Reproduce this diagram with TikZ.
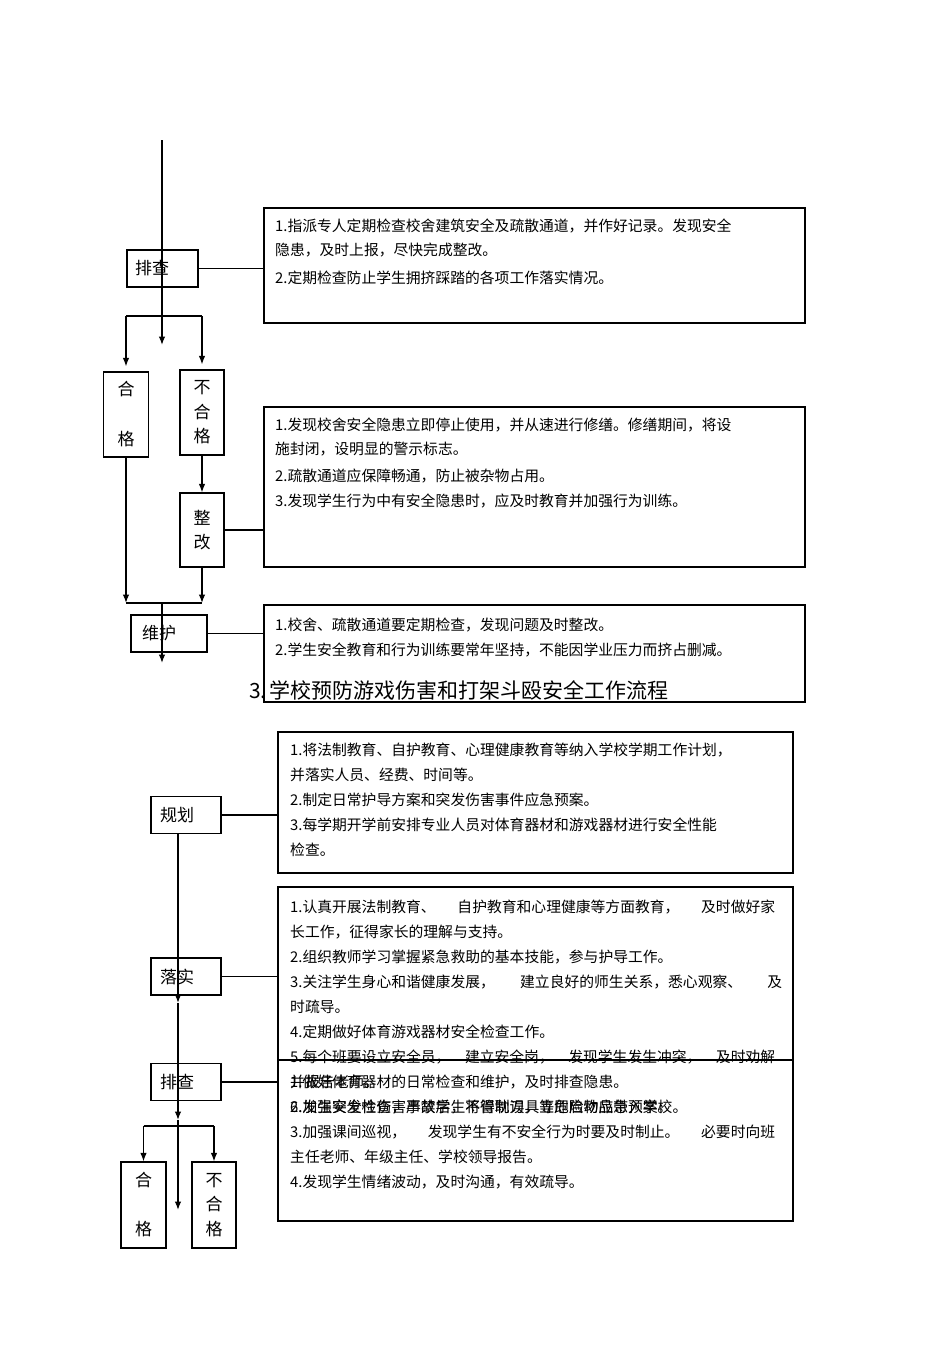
\documentclass[tikz,border=0pt]{standalone}
\usepackage{fontspec}
\setmainfont{Noto Sans CJK SC}
\usetikzlibrary{arrows.meta}

\tikzset{
	stage/.style={draw, line width=1.2pt, font=\fontsize{17}{20}\selectfont, align=left, minimum height=37pt, inner ysep=0pt},
	vstage/.style={draw, line width=1.2pt, font=\fontsize{17}{24.5}\selectfont, align=center, minimum width=45pt, inner sep=0pt},
	note/.style={draw, line width=1.2pt, inner sep=0pt},
	notetext/.style={anchor=north west, inner sep=0pt, align=left, font=\fontsize{14.8}{24}\selectfont},
	link/.style={line width=1.2pt},
	flow/.style={line width=1.2pt, ->},
}

\begin{document}
\begin{tikzpicture}[x=1pt, y=-1pt, >={Latex[length=8.5pt,width=6.5pt]}]
	\useasboundingbox (0,0) rectangle (950,1345);

	\node[note, minimum width=541, minimum height=115] (n1) at (534.5,265.5) {};
	\node[notetext] (n1t) at (275,219) {1.指派专人定期检查校舍建筑安全及疏散通道，并作好记录。发现安全\\隐患，及时上报，尽快完成整改。\\[4pt]2.定期检查防止学生拥挤踩踏的各项工作落实情况。};
	\node[note, minimum width=541, minimum height=160] (n2) at (534.5,487) {};
	\node[notetext] (n2t) at (275,418) {1.发现校舍安全隐患立即停止使用，并从速进行修缮。修缮期间，将设\\施封闭，设明显的警示标志。\\[3pt]2.疏散通道应保障畅通，防止被杂物占用。\\[1pt]3.发现学生行为中有安全隐患时，应及时教育并加强行为训练。};
	\node[note, minimum width=541, minimum height=97] (n3) at (534.5,653.5) {};
	\node[notetext] (n3t) at (275,618) {1.校舍、疏散通道要定期检查，发现问题及时整改。\\[1pt]2.学生安全教育和行为训练要常年坚持，不能因学业压力而挤占删减。};

	\node[stage, text width=55, inner xsep=8] (pc1) at (162.5,268.5) {排查};
	\node[vstage, minimum height=85, font=\fontsize{17}{50}\selectfont] (hg1) at (126,414.5) {合\\格};
	\node[vstage, minimum height=85, minimum width=44] (bhg1) at (202,412.5) {不\\合\\格};
	\node[vstage, minimum height=74, minimum width=44] (zg) at (202,530) {整\\改};
	\node[stage, text width=54, inner xsep=11] (wh) at (169,633.5) {维护};

	\coordinate (s1top) at (162,140);
	\coordinate (s1arr) at (162,345);
	\coordinate (br1) at (162,316);
	\coordinate (mg1) at (162,603);
	\coordinate (s1end) at (162,663);

	\draw[flow] (s1top) -- (s1arr);
	\draw[link] (pc1) -- (pc1 -| n1.west);
	\draw[link] (hg1.north |- br1) -- (bhg1.north |- br1);
	\draw[flow, shorten >=5pt] (hg1.north |- br1) -- (hg1.north);
	\draw[flow, shorten >=5pt] (bhg1.north |- br1) -- (bhg1.north);
	\draw[flow] (bhg1) -- (zg);
	\draw[link] (zg) -- (zg -| n2.west);
	\draw[flow] (hg1) -- (hg1 |- mg1);
	\draw[flow] (zg) -- (zg |- mg1);
	\draw[link] (hg1 |- mg1) -- (zg |- mg1);
	\draw[flow] (mg1) -- (s1end);
	\draw[link] (wh) -- (wh -| n3.west);

	\node[inner sep=0pt, font=\fontsize{21}{24}\selectfont] (ttl) at (459,690) {3.\,学校预防游戏伤害和打架斗殴安全工作流程};

	\node[note, line width=2pt, minimum width=515, minimum height=141] (n4) at (535.5,802.5) {};
	\node[notetext, font=\fontsize{14.8}{25}\selectfont] (n4t) at (290,743) {1.将法制教育、自护教育、心理健康教育等纳入学校学期工作计划，\\并落实人员、经费、时间等。\\2.制定日常护导方案和突发伤害事件应急预案。\\3.每学期开学前安排专业人员对体育器材和游戏器材进行安全性能\\检查。};
	\node[note, minimum width=515, minimum height=173] (n5) at (535.5,973.5) {};
	\node[notetext, font=\fontsize{14.8}{25}\selectfont] (n5t) at (290,900) {\makebox[485pt][l]{1.认真开展法制教育、\hfill 自护教育和心理健康等方面教育，\hfill 及时做好家}\\长工作，征得家长的理解与支持。\\2.组织教师学习掌握紧急救助的基本技能，参与护导工作。\\\makebox[492pt][l]{3.关注学生身心和谐健康发展，\hfill 建立良好的师生关系，悉心观察、\hfill 及}\\时疏导。\\4.定期做好体育游戏器材安全检查工作。\\\makebox[485pt][l]{5.每个班要设立安全员，\hfill 建立安全岗，\hfill 发现学生发生冲突，\hfill 及时劝解}\\并报告老师。\\6.发生突发性伤害事故后，不得耽误，立即启动应急预案。};
	\node[note, minimum width=515, minimum height=161] (n6) at (535.5,1140.5) {};
	\node[notetext, font=\fontsize{14.8}{25}\selectfont] (n6t) at (290,1075) {1.做好体育器材的日常检查和维护，及时排查隐患。\\2.加强安全检查，严禁学生将管制刀具等危险物品带入学校。\\\makebox[485pt][l]{3.加强课间巡视，\hfill 发现学生有不安全行为时要及时制止。\hfill 必要时向班}\\主任老师、年级主任、学校领导报告。\\4.发现学生情绪波动，及时沟通，有效疏导。};

	\node[stage, text width=52, inner xsep=9] (gh) at (186,815) {规划};
	\node[stage, text width=52, inner xsep=9] (ls) at (186,976.5) {落实};
	\node[stage, text width=52, inner xsep=9] (pc2) at (186,1082) {排查};
	\node[vstage, minimum height=86, font=\fontsize{17}{49}\selectfont] (hg2) at (143.5,1205) {合\\格};
	\node[vstage, minimum height=86, minimum width=44] (bhg2) at (214,1205) {不\\合\\格};

	\coordinate (v2) at (178,0);
	\coordinate (a2) at (178,1003);
	\coordinate (a3) at (178,1120);
	\coordinate (br2) at (178,1126);
	\coordinate (a4) at (178,1210);

	\draw[flow] (gh.south -| v2) -- (a2);
	\draw[flow] (a2) -- (a3);
	\draw[flow] (a3) -- (a4);
	\draw[link] (gh) -- (gh -| n4.west);
	\draw[link] (ls) -- (ls -| n5.west);
	\draw[link] (pc2) -- (pc2 -| n6.west);
	\draw[link] (hg2.north |- br2) -- (bhg2.north |- br2);
	\draw[flow] (hg2.north |- br2) -- (hg2);
	\draw[flow] (bhg2.north |- br2) -- (bhg2);
\end{tikzpicture}
\end{document}
